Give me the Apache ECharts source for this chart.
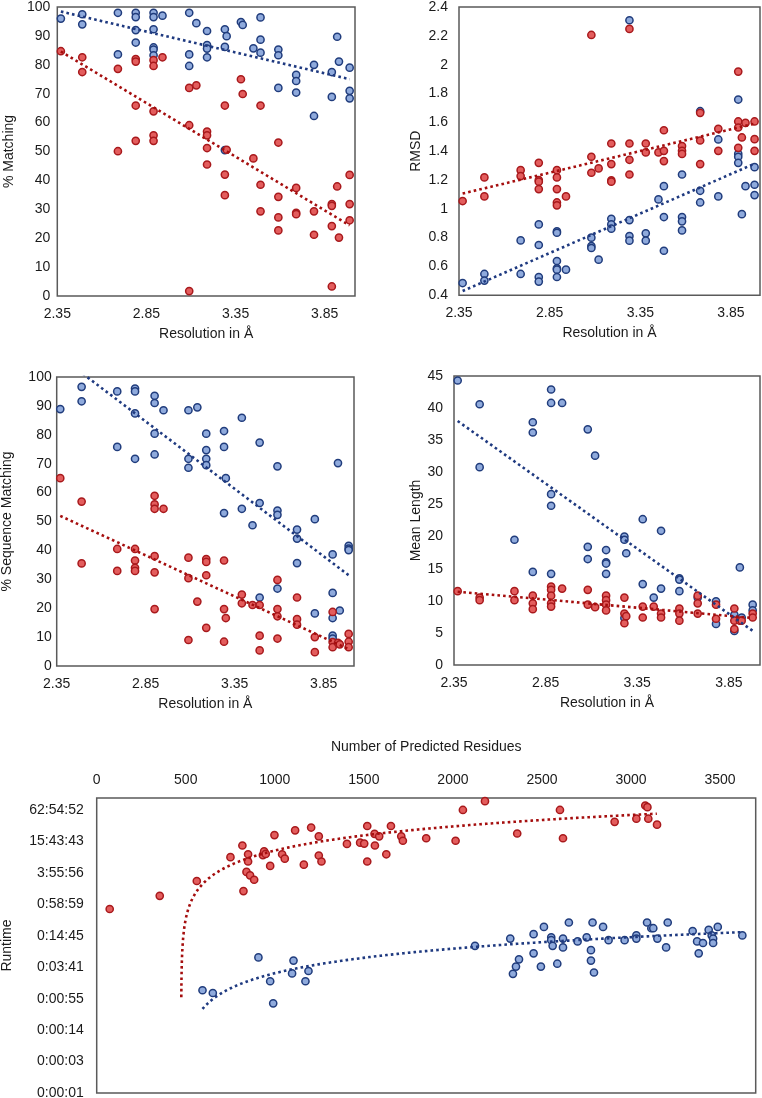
<!DOCTYPE html>
<html>
<head>
<meta charset="utf-8">
<script src="https://cdn.jsdelivr.net/npm/echarts@6/dist/echarts.min.js"></script>
<style>
html,body{margin:0;padding:0;background:#fff;}
#chart{width:762px;height:1098px;}
</style>
</head>
<body>
<div id="chart"></div>
<script>
// ---------- DATA ----------
// Panel 1: % Matching vs resolution
const matchingBlue = [[2.37,96],[2.49,97.5],[2.49,94],[2.69,98],[2.69,83.6],[2.79,98],[2.79,96.5],[2.79,92],[2.79,87.7],[2.89,98],[2.89,96.5],[2.89,92.3],[2.89,86],[2.89,85.3],[2.89,83.3],[2.94,97],[3.09,98],[3.09,83.6],[3.09,79.6],[3.13,94.4],[3.19,91.7],[3.19,86.8],[3.19,85.6],[3.19,82.6],[3.29,92.3],[3.30,89.9],[3.29,86.2],[3.29,50.5],[3.38,94.8],[3.39,93.8],[3.45,85.7],[3.49,96.4],[3.49,88.7],[3.49,84.2],[3.59,85.3],[3.59,83.3],[3.59,72],[3.69,76.5],[3.69,74.4],[3.69,70.4],[3.79,80],[3.79,62.3],[3.89,77.5],[3.89,68.9],[3.92,89.7],[3.93,81.1],[3.99,79],[3.99,71],[3.99,68.4]];
const matchingRed = [[2.37,84.7],[2.49,82.6],[2.49,77.5],[2.69,78.6],[2.69,50.1],[2.79,82],[2.79,81.1],[2.79,65.9],[2.79,53.7],[2.89,81.6],[2.89,79.6],[2.89,63.9],[2.89,55.6],[2.89,53.7],[2.94,82.6],[3.09,72],[3.09,59.1],[3.09,1.7],[3.13,72.9],[3.19,56.9],[3.19,55.6],[3.19,51.2],[3.19,45.5],[3.29,65.9],[3.30,50.6],[3.29,42],[3.29,34.9],[3.38,75],[3.39,69.9],[3.45,47.6],[3.49,65.9],[3.49,38.5],[3.49,29.3],[3.59,53.1],[3.59,34.3],[3.59,27.2],[3.59,22.7],[3.69,37.4],[3.69,28.8],[3.69,28.3],[3.79,29.3],[3.79,21.2],[3.89,31.8],[3.89,31.2],[3.89,24.2],[3.89,3.3],[3.92,37.9],[3.93,20.2],[3.99,41.9],[3.99,31.8],[3.99,26.2]];

// Panel 2: RMSD vs resolution
const rmsdBlue = [[2.37,0.485],[2.49,0.548],[2.49,0.502],[2.69,0.781],[2.69,0.548],[2.79,0.892],[2.79,0.749],[2.79,0.527],[2.79,0.495],[2.89,0.843],[2.89,0.834],[2.89,0.638],[2.89,0.587],[2.89,0.578],[2.89,0.527],[2.94,0.578],[3.08,0.80],[3.08,0.742],[3.08,0.728],[3.12,0.647],[3.19,0.931],[3.19,0.892],[3.19,0.862],[3.29,2.308],[3.29,0.922],[3.29,0.811],[3.29,0.779],[3.38,0.83],[3.38,0.779],[3.45,1.065],[3.48,1.157],[3.48,0.943],[3.48,0.709],[3.58,1.238],[3.58,0.943],[3.58,0.913],[3.58,0.85],[3.68,1.677],[3.68,1.125],[3.68,1.044],[3.78,1.481],[3.78,1.086],[3.89,1.758],[3.89,1.381],[3.89,1.361],[3.89,1.319],[3.91,0.963],[3.93,1.157],[3.98,1.289],[3.98,1.167],[3.98,1.095]];
const rmsdRed = [[2.37,1.054],[2.49,1.218],[2.49,1.086],[2.69,1.268],[2.69,1.227],[2.79,1.319],[2.79,1.199],[2.79,1.188],[2.79,1.137],[2.89,1.268],[2.89,1.218],[2.89,1.137],[2.89,1.044],[2.89,1.024],[2.94,1.086],[3.08,2.206],[3.08,1.361],[3.08,1.25],[3.12,1.28],[3.19,1.453],[3.19,1.31],[3.19,1.197],[3.19,1.188],[3.29,2.248],[3.29,1.453],[3.29,1.34],[3.29,1.238],[3.38,1.453],[3.38,1.391],[3.45,1.391],[3.48,1.545],[3.48,1.402],[3.48,1.331],[3.58,1.435],[3.58,1.402],[3.58,1.381],[3.68,1.666],[3.68,1.474],[3.68,1.31],[3.78,1.555],[3.78,1.402],[3.89,1.952],[3.89,1.606],[3.89,1.564],[3.89,1.423],[3.91,1.495],[3.93,1.596],[3.98,1.606],[3.98,1.483],[3.98,1.402]];

// Panel 3: % Sequence Matching vs resolution
const seqBlue = [[2.37,88.9],[2.49,96.6],[2.49,91.6],[2.69,95],[2.69,75.8],[2.79,96],[2.79,95],[2.79,87.4],[2.79,71.7],[2.90,93.5],[2.90,91],[2.90,80.4],[2.90,73.2],[2.95,88.5],[3.09,88.5],[3.09,71.7],[3.09,68.6],[3.14,89.5],[3.19,80.4],[3.19,74.7],[3.19,71.7],[3.19,69.5],[3.29,81.3],[3.29,75.8],[3.30,65],[3.29,52.9],[3.39,54.4],[3.39,85.9],[3.45,48.7],[3.49,77.3],[3.49,56.4],[3.49,23.7],[3.59,69.1],[3.59,53.8],[3.59,52.3],[3.59,26.8],[3.70,47.2],[3.70,44.1],[3.70,35.6],[3.80,50.8],[3.80,18.2],[3.90,38.6],[3.90,25.3],[3.90,16.6],[3.90,10.5],[3.90,9.5],[3.93,70.2],[3.94,19.2],[3.99,41.6],[3.99,40.6],[3.99,40.1]];
const seqRed = [[2.37,65],[2.49,56.9],[2.49,35.5],[2.69,40.5],[2.69,32.9],[2.79,40.5],[2.79,36.5],[2.79,34],[2.79,32.9],[2.90,58.9],[2.90,55.9],[2.90,54.4],[2.90,38],[2.90,32.4],[2.90,19.7],[2.95,54.4],[3.09,37.5],[3.09,30.4],[3.09,9],[3.14,22.3],[3.19,37],[3.19,36],[3.19,31.4],[3.19,13.2],[3.29,36.5],[3.29,19.7],[3.30,16.6],[3.29,8.4],[3.39,24.7],[3.39,21.7],[3.45,21.1],[3.49,21.1],[3.49,10.5],[3.49,5.4],[3.59,29.8],[3.59,19.7],[3.59,17.2],[3.59,9.5],[3.70,23.7],[3.70,16.2],[3.70,14.3],[3.80,10],[3.80,4.8],[3.90,18.7],[3.90,8.3],[3.90,6.5],[3.93,8],[3.94,7.5],[3.99,11.1],[3.99,8.4],[3.99,6.5]];

// Panel 4: Mean Length vs resolution
const lenBlue = [[2.37,44.3],[2.49,40.6],[2.49,30.8],[2.68,19.5],[2.78,37.8],[2.78,36.2],[2.78,14.5],[2.88,42.9],[2.88,40.8],[2.88,26.6],[2.88,24.8],[2.88,14.2],[2.94,40.8],[3.08,36.7],[3.08,18.4],[3.08,16.5],[3.12,32.6],[3.18,17.9],[3.18,16.0],[3.18,15.8],[3.18,14.2],[3.28,20.0],[3.28,19.5],[3.28,7.3],[3.29,17.4],[3.38,22.7],[3.38,12.6],[3.44,10.5],[3.48,20.9],[3.48,11.9],[3.58,13.5],[3.58,13.3],[3.58,11.5],[3.68,10.5],[3.78,9.9],[3.78,6.4],[3.88,7.8],[3.88,5.3],[3.91,15.2],[3.92,7.4],[3.98,9.4],[3.98,8.5]];
const lenRed = [[2.37,11.5],[2.49,10.5],[2.49,10.1],[2.68,11.5],[2.68,10.1],[2.78,10.8],[2.78,9.6],[2.78,8.7],[2.88,12.2],[2.88,11.7],[2.88,10.8],[2.88,9.6],[2.88,9.1],[2.94,11.9],[3.08,11.7],[3.08,9.4],[3.12,9.0],[3.18,10.8],[3.18,10.1],[3.18,9.4],[3.18,8.5],[3.28,10.5],[3.28,8.0],[3.28,6.5],[3.29,7.6],[3.38,9.1],[3.38,7.4],[3.44,9.1],[3.48,8.0],[3.48,7.4],[3.58,8.8],[3.58,8.0],[3.58,6.9],[3.68,10.8],[3.68,9.6],[3.68,8.0],[3.78,9.4],[3.78,7.2],[3.88,8.8],[3.88,6.9],[3.88,5.6],[3.91,6.9],[3.92,6.9],[3.98,8.0],[3.98,7.4]];

// Panel 5: Runtime (seconds) vs number of predicted residues
const runtimeRed = [[73,2876],[354,5144],[562,9882],[751,28312],[818,47313],[824,6335],[841,14766],[850,32085],[850,23324],[861,12671],[884,10437],[933,31000],[940,36369],[949,32600],[974,19209],[998,74866],[1041,32085],[1056,26430],[1114,92180],[1163,20316],[1204,104290],[1247,70736],[1247,30378],[1262,23324],[1405,50717],[1479,53620],[1502,51434],[1519,111646],[1519,23324],[1560,79073],[1562,47313],[1586,70736],[1626,32085],[1652,111646],[1710,70736],[1719,58260],[1850,65050],[2015,58260],[2056,226492],[2180,333940],[2361,80170],[2601,226492],[2618,65050],[2908,134180],[3030,154010],[3080,275270],[3092,256520],[3097,154010],[3146,118330]];
const runtimeBlue = [[594,80],[652,71],[908,340],[974,119],[991,45],[1097,168],[1105,296],[1172,119],[1189,187],[2124,568],[2322,782],[2337,165],[2354,227],[2371,313],[2453,949],[2453,407],[2494,227],[2511,1305],[2552,826],[2552,729],[2560,568],[2586,258],[2618,782],[2618,530],[2651,1585],[2700,690],[2751,826],[2775,468],[2775,296],[2784,1585],[2792,175],[2843,1305],[2874,729],[2964,729],[3030,897],[3030,782],[3090,1585],[3114,1234],[3125,1234],[3148,782],[3197,530],[3206,1585],[3346,1090],[3371,690],[3380,407],[3404,643],[3436,1152],[3453,897],[3461,782],[3461,643],[3487,1305],[3625,897]];

// Axis labels / names
const resolutionName = 'Resolution in Å';
const yNames = ['% Matching', 'RMSD', '% Sequence Matching', 'Mean Length'];
const runtimeXName = 'Number of Predicted Residues';
const runtimeYName = 'Runtime';
const runtimeBaseSec = 0.864;   // lowest runtime tick (1e-5 day)
const runtimeLogBase = 4;

// ---------- HELPERS ----------
function linFit(pts){
  let n=pts.length,sx=0,sy=0,sxx=0,sxy=0;
  pts.forEach(p=>{sx+=p[0];sy+=p[1];sxx+=p[0]*p[0];sxy+=p[0]*p[1];});
  const m=(n*sxy-sx*sy)/(n*sxx-sx*sx);
  const b=(sy-m*sx)/n;
  return {m,b};
}
function xRange(pts){
  let lo=Infinity,hi=-Infinity;
  pts.forEach(p=>{lo=Math.min(lo,p[0]);hi=Math.max(hi,p[0]);});
  return [lo,hi];
}
function trendLine(pts){
  const f=linFit(pts), r=xRange(pts);
  return [[r[0],f.m*r[0]+f.b],[r[1],f.m*r[1]+f.b]];
}
function toLog(sec){ return Math.log(sec/runtimeBaseSec)/Math.log(runtimeLogBase); }
function runtimePts(pts){ return pts.map(p=>[p[0],toLog(p[1])]); }
function runtimeTrend(pts){
  const f=linFit(pts), r=xRange(pts);
  const out=[];
  for(let x=r[0]; x<=r[1]; x+=1){
    const y=f.m*x+f.b;
    if(y>0) out.push([x,toLog(y)]);
  }
  return out;
}
function fmtTime(k){
  const s=Math.round(runtimeBaseSec*Math.pow(runtimeLogBase,k));
  const h=Math.floor(s/3600), m=Math.floor((s%3600)/60), sc=s%60;
  return h+':'+String(m).padStart(2,'0')+':'+String(sc).padStart(2,'0');
}

// ---------- STYLE ----------
const FONT = "'Liberation Sans', Arial, sans-serif";
const TXT = '#1a1a1a';
const BLUE_FILL='#8FAADC', BLUE_EDGE='#203C7C', BLUE_LINE='#1F3A80';
const RED_FILL='#E35D5D', RED_EDGE='#A8191C', RED_LINE='#A50E0E';
const BORDER='#5a5a5a';

function scatter(data, gi, fill, edge){
  return {type:'scatter', xAxisIndex:gi, yAxisIndex:gi, data, symbol:'circle', symbolSize:7.2,
    itemStyle:{color:fill, borderColor:edge, borderWidth:1.5, opacity:1}, z:3, silent:true};
}
function trend(data, gi, color){
  return {type:'line', xAxisIndex:gi, yAxisIndex:gi, data, showSymbol:false, symbol:'none', clip:true,
    lineStyle:{color, width:2.6, type:[2.6,3.1], cap:'butt'}, z:4, silent:true, animation:false};
}

const grids = [
  {left:57.3, top:7, width:297.7, height:289},
  {left:459, top:7, width:301, height:288.3},
  {left:56.7, top:377, width:297.3, height:289},
  {left:454, top:376, width:306, height:289},
  {left:96.7, top:798, width:659, height:295}
];

function resX(gi, max){
  return {type:'value', gridIndex:gi, min:2.35, max:max, interval:0.5,
    axisLine:{show:false}, axisTick:{show:false}, splitLine:{show:false},
    axisLabel:{color:TXT, fontFamily:FONT, fontSize:14, margin:11, showMaxLabel:false},
    name:resolutionName, nameLocation:'middle', nameGap:31,
    nameTextStyle:{color:TXT, fontFamily:FONT, fontSize:14}};
}
function valY(gi, min, max, interval, name, margin, gap){
  return {type:'value', gridIndex:gi, min, max, interval,
    axisLine:{show:false}, axisTick:{show:false}, splitLine:{show:false},
    axisLabel:{color:TXT, fontFamily:FONT, fontSize:14, margin},
    name, nameLocation:'middle', nameGap:gap,
    nameTextStyle:{color:TXT, fontFamily:FONT, fontSize:14}};
}

const option = {
  animation:false,
  backgroundColor:'#fff',
  grid: grids.map(g=>Object.assign({show:true, borderColor:BORDER, borderWidth:1.5, backgroundColor:'transparent',
    containLabel:false, outerBoundsMode:'none'}, g)),
  xAxis:[
    resX(0,4.02), resX(1,4.01), resX(2,4.02), resX(3,4.02),
    {type:'value', gridIndex:4, position:'top', min:0, max:3700, interval:500,
      axisLine:{show:false}, axisTick:{show:false}, splitLine:{show:false},
      axisLabel:{color:TXT, fontFamily:FONT, fontSize:14, margin:11, showMaxLabel:false, formatter:v=>String(v)},
      name:runtimeXName, nameLocation:'middle', nameGap:44,
      nameTextStyle:{color:TXT, fontFamily:FONT, fontSize:14}}
  ],
  yAxis:[
    valY(0,0,100,10,yNames[0],7,41),
    valY(1,0.4,2.4,0.2,yNames[1],11,36),
    valY(2,0,100,10,yNames[2],5,43),
    valY(3,0,45,5,yNames[3],11,30),
    {type:'value', gridIndex:4, min:0, max:9.38, interval:1,
      axisLine:{show:false}, axisTick:{show:false}, splitLine:{show:false},
      axisLabel:{color:TXT, fontFamily:FONT, fontSize:14, margin:13, showMaxLabel:false, formatter:fmtTime},
      name:runtimeYName, nameLocation:'middle', nameGap:83,
      nameTextStyle:{color:TXT, fontFamily:FONT, fontSize:14}}
  ],
  series:[
    scatter(matchingBlue,0,BLUE_FILL,BLUE_EDGE), scatter(matchingRed,0,RED_FILL,RED_EDGE),
    trend(trendLine(matchingBlue),0,BLUE_LINE), trend(trendLine(matchingRed),0,RED_LINE),
    scatter(rmsdBlue,1,BLUE_FILL,BLUE_EDGE), scatter(rmsdRed,1,RED_FILL,RED_EDGE),
    trend(trendLine(rmsdBlue),1,BLUE_LINE), trend(trendLine(rmsdRed),1,RED_LINE),
    scatter(seqBlue,2,BLUE_FILL,BLUE_EDGE), scatter(seqRed,2,RED_FILL,RED_EDGE),
    trend(trendLine(seqBlue),2,BLUE_LINE), trend(trendLine(seqRed),2,RED_LINE),
    scatter(lenBlue,3,BLUE_FILL,BLUE_EDGE), scatter(lenRed,3,RED_FILL,RED_EDGE),
    trend(trendLine(lenBlue),3,BLUE_LINE), trend(trendLine(lenRed),3,RED_LINE),
    scatter(runtimePts(runtimeBlue),4,BLUE_FILL,BLUE_EDGE), scatter(runtimePts(runtimeRed),4,RED_FILL,RED_EDGE),
    trend(runtimeTrend(runtimeBlue),4,BLUE_LINE), trend(runtimeTrend(runtimeRed),4,RED_LINE)
  ]
};
const chart = echarts.init(document.getElementById('chart'), null, {renderer:'canvas'});
chart.setOption(option);
</script>
</body>
</html>
